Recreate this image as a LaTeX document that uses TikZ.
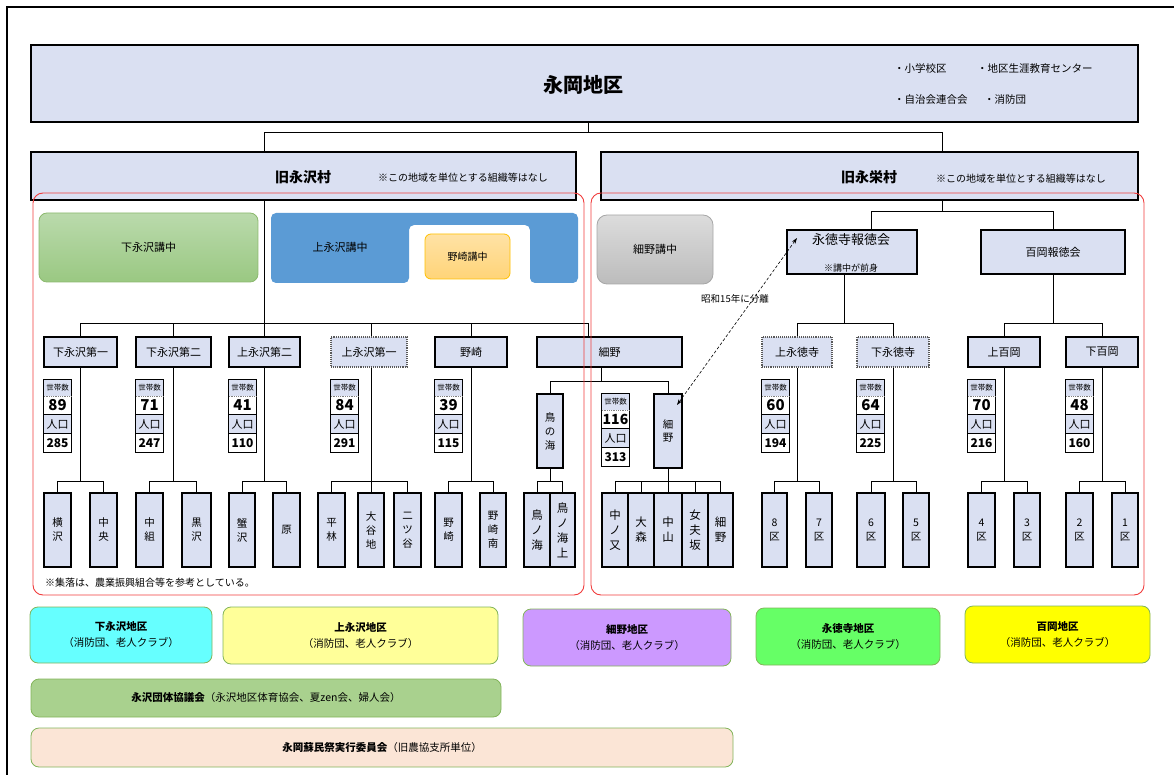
\documentclass[tikz,border=0pt]{standalone}
\usepackage{fontspec}
\setmainfont{Noto Sans CJK JP}
\usetikzlibrary{backgrounds,arrows.meta}
\definecolor{lav}{RGB}{218,224,242}
\definecolor{redb}{RGB}{240,60,60}
\definecolor{grnA}{RGB}{186,218,172}
\definecolor{grnB}{RGB}{154,200,130}
\definecolor{grnE}{RGB}{140,185,110}
\definecolor{blu}{RGB}{91,155,213}
\definecolor{orgA}{RGB}{255,226,165}
\definecolor{orgB}{RGB}{255,212,120}
\definecolor{orgE}{RGB}{255,192,0}
\definecolor{gryA}{RGB}{220,220,220}
\definecolor{gryB}{RGB}{188,188,188}
\definecolor{gryE}{RGB}{166,166,166}
\definecolor{cyb}{RGB}{102,255,255}
\definecolor{ylwA}{RGB}{255,255,153}
\definecolor{purp}{RGB}{204,153,255}
\definecolor{grnL}{RGB}{102,255,102}
\definecolor{ylwB}{RGB}{255,255,0}
\definecolor{grnD}{RGB}{169,209,142}
\definecolor{peach}{RGB}{251,229,214}
\definecolor{gbord}{RGB}{130,180,90}
\newcommand\fsz[1]{\fontsize{#1}{#1}\selectfont}
\newcommand\nA[1]{{\bfseries\fsz{15}#1}}
\newcommand\nB[1]{{\bfseries\fsz{12}#1}}
\newcommand\bx[7][]{%
 \pgfmathsetmacro\bxcx{(#3+#5)/2}%
 \pgfmathsetmacro\bxcy{(#4+#6)/2}%
 \pgfmathsetmacro\bxw{#5-#3}%
 \pgfmathsetmacro\bxh{#6-#4}%
 \node[#1, minimum width=\bxw pt, minimum height=\bxh pt] (#2) at (\bxcx,\bxcy) {#7};}
\newcommand\stbox[5]{%
 \node[sthd] (#1a) at (#2+13.5,#3+8) {世帯数};
 \node[stnum] (#1b) at (#2+13.5,#3+25.25) {#4};
 \node[sthd2] (#1c) at (#2+13.5,#3+44) {人口};
 \node[stnum] (#1d) at (#2+13.5,#3+62.75) {#5};
 \draw[line width=1pt] (#1a.north west) rectangle (#1d.south east);
 \draw[densely dotted, line width=0.8pt, gray] (#1a.south west) -- (#1a.south east);
 \draw[line width=0.8pt] (#1b.south west) -- (#1b.south east) (#1c.south west) -- (#1c.south east);}
\tikzset{
 box/.style={draw=black, fill=lav, line width=1.1pt, inner sep=0pt, font=\fsz{11}, align=center},
 dbox/.style={box, draw=gray!70!black, densely dotted},
 leaf/.style={box, font=\fontsize{10.5}{14}\selectfont},
 conn/.style={line width=0.9pt, black},
 sthd/.style={fill=lav, inner sep=0pt, minimum width=27pt, minimum height=16pt, font=\fsz{7.5}},
 sthd2/.style={fill=lav, inner sep=0pt, minimum width=27pt, minimum height=19pt, font=\fsz{11}},
 stnum/.style={fill=white, inner sep=0pt, minimum width=27pt, minimum height=18.5pt},
 kbox/.style={rounded corners=8pt, inner sep=0pt, font=\fsz{11}, line width=0.8pt},
 bot/.style={rounded corners=8pt, draw=gbord, line width=0.8pt, inner sep=0pt, align=center, font=\fontsize{10.5}{16}\selectfont},
 note/.style={inner sep=0pt, font=\fsz{10}},
}
\begin{document}
\begin{tikzpicture}[x=1pt,y=-1pt]
\useasboundingbox (0,0) rectangle (1174,775);
\draw[line width=1.5pt] (7,776) -- (7,7) -- (1175,7);
% top
\bx[box,line width=1.3pt]{top}{31}{45}{1138}{122}{}
\node[inner sep=0pt, font=\bfseries\fsz{20}] (toptitle) at (583,85) {永岡地区};
\node[note, anchor=west, font=\fsz{10.5}] (t1) at (894,69) {・小学校区};
\node[note, anchor=west, font=\fsz{10.5}] (t2) at (977,69) {・地区生涯教育センター};
\node[note, anchor=west, font=\fsz{10.5}] (t3) at (894,100) {・自治会連合会};
\node[note, anchor=west, font=\fsz{10.5}] (t4) at (984,100) {・消防団};
% villages
\bx[box,line width=1.3pt]{v1}{31}{152}{576}{200}{}
\node[inner sep=0pt, font=\bfseries\fsz{14}] (v1t) at (303,177) {旧永沢村};
\node[note, anchor=west] (v1n) at (378,178) {※この地域を単位とする組織等はなし};
\bx[box,line width=1.3pt]{v2}{601}{152}{1138}{200}{}
\node[inner sep=0pt, font=\bfseries\fsz{14}] (v2t) at (869,177) {旧永栄村};
\node[note, anchor=west] (v2n) at (936,179) {※この地域を単位とする組織等はなし};
% kochu
\bx[kbox, draw=grnE, top color=grnA, bottom color=grnB]{kg}{39}{213}{258}{282}{下永沢講中}
\fill[blu, rounded corners=5pt] (271,213) -- (578,213) -- (578,283) -- (530,283) -- (530,225) -- (409,225) -- (409,283) -- (271,283) -- cycle;
\node[inner sep=0pt, font=\fsz{11}] (kb) at (340,247) {上永沢講中};
\bx[kbox, rounded corners=6pt, draw=orgE, top color=orgA, bottom color=orgB, font=\fsz{10}]{ko}{425}{234}{510}{279}{野崎講中}
\bx[kbox, rounded corners=10pt, draw=gryE, top color=gryA, bottom color=gryB]{kgy}{597}{215}{713}{284}{細野講中}
% hotokukai
\bx[box]{hk1}{787}{230}{917}{274}{}
\node[inner sep=0pt, font=\fsz{13}] (hk1t) at (851,240) {永徳寺報徳会};
\node[inner sep=0pt, font=\fsz{9}] (hk1s) at (851,268) {※講中が前身};
\bx[box]{hk2}{981}{230}{1125}{274}{百岡報徳会}
% rows
\bx[box]{r1}{44}{337}{117}{367}{下永沢第一}
\bx[box]{r2}{136}{337}{211}{367}{下永沢第二}
\bx[box]{r3}{229}{337}{300}{367}{上永沢第二}
\bx[dbox]{r4}{331}{337}{407}{367}{上永沢第一}
\bx[box]{r5}{435}{337}{507}{367}{野崎}
\bx[box]{r6}{537}{337}{682}{367}{細野}
\bx[dbox]{r7}{762}{337}{832}{367}{上永徳寺}
\bx[dbox]{r8}{857}{337}{929}{367}{下永徳寺}
\bx[box]{r9}{968}{337}{1040}{367}{上百岡}
\bx[box]{r10}{1066}{337}{1138}{367}{下百岡}
% stats
\stbox{s1}{44}{380}{\nA{89}}{\nB{285}}
\stbox{s2}{136}{380}{\nA{71}}{\nB{247}}
\stbox{s3}{229}{380}{\nA{41}}{\nB{110}}
\stbox{s4}{331}{380}{\nA{84}}{\nB{291}}
\stbox{s5}{435}{380}{\nA{39}}{\nB{115}}
\stbox{s6}{602}{394}{{\bfseries\fsz{14}116}}{\nB{313}}
\stbox{s7}{762}{380}{\nA{60}}{\nB{194}}
\stbox{s8}{857}{380}{\nA{64}}{\nB{225}}
\stbox{s9}{968}{380}{\nA{70}}{\nB{216}}
\stbox{s10}{1066}{380}{\nA{48}}{\nB{160}}
% middle
\bx[leaf]{tn}{537}{394}{563}{468}{鳥\\の\\海}
\bx[leaf, font=\fontsize{10.5}{12.5}\selectfont]{hn}{654}{394}{682}{468}{細\\野}
% leaves
\bx[leaf]{l1}{44}{493}{71}{567}{横\\沢}
\bx[leaf]{l2}{90}{493}{117}{567}{中\\央}
\bx[leaf]{l3}{136}{493}{163}{567}{中\\組}
\bx[leaf]{l4}{182}{493}{211}{567}{黒\\沢}
\bx[leaf]{l5}{229}{493}{255}{567}{蟹\\沢}
\bx[leaf]{l6}{273}{493}{300}{567}{原}
\bx[leaf]{l7}{318}{493}{345}{567}{平\\林}
\bx[leaf]{l8}{358}{493}{384}{567}{大\\谷\\地}
\bx[leaf]{l9}{394}{493}{421}{567}{二\\ツ\\谷}
\bx[leaf]{l10}{435}{493}{462}{567}{野\\崎}
\bx[leaf]{l11}{480}{493}{506}{567}{野\\崎\\南}
\bx[leaf, font=\fontsize{11.5}{15}\selectfont]{l12}{524}{493}{550}{567}{鳥\\ノ\\海}
\bx[leaf, font=\fontsize{11.5}{15}\selectfont]{l13}{550}{493}{575}{567}{鳥\\ノ\\海\\上}
\bx[leaf, font=\fontsize{11.5}{15}\selectfont]{l14}{602}{493}{628}{567}{中\\ノ\\又}
\bx[leaf, font=\fontsize{11.5}{15}\selectfont]{l15}{628}{493}{654}{567}{大\\森}
\bx[leaf, font=\fontsize{11.5}{15}\selectfont]{l16}{654}{493}{682}{567}{中\\山}
\bx[leaf, font=\fontsize{11.5}{15}\selectfont]{l17}{682}{493}{708}{567}{女\\夫\\坂}
\bx[leaf, font=\fontsize{11.5}{15}\selectfont]{l18}{708}{493}{733}{567}{細\\野}
\bx[leaf]{l19}{762}{493}{787}{567}{8\\区}
\bx[leaf]{l20}{806}{493}{832}{567}{7\\区}
\bx[leaf]{l21}{857}{493}{885}{567}{6\\区}
\bx[leaf]{l22}{903}{493}{929}{567}{5\\区}
\bx[leaf]{l23}{968}{493}{995}{567}{4\\区}
\bx[leaf]{l24}{1014}{493}{1040}{567}{3\\区}
\bx[leaf]{l25}{1066}{493}{1093}{567}{2\\区}
\bx[leaf]{l26}{1112}{493}{1138}{567}{1\\区}
% notes
\node[note, anchor=west] (n1) at (45,583) {※集落は、農業振興組合等を参考としている。};
\node[inner sep=0pt, font=\fsz{9.5}] (lbl) at (735,299) {昭和15年に分離};
% coordinates
\coordinate (y0) at (0,132);
\coordinate (y1) at (0,211);
\coordinate (yA) at (0,323);
\coordinate (yB) at (0,481);
\coordinate (yC) at (0,381);
\coordinate (c588) at (588,0);
\coordinate (c942) at (942,0);
\coordinate (c871) at (871,0);
\coordinate (c844) at (844,0);
\coordinate (c601) at (601,0);
\coordinate (ar1) at (677,405);
\coordinate (ar2) at (797,238);
\begin{pgfonlayer}{background}
\draw[conn] (top.south -| c588) -- (c588 |- y0);
\draw[conn] (r3.north) -- (r3.north |- y0) -- (c942 |- y0) -- (v2.north -| c942);
\draw[conn] (v2.south -| c942) -- (c942 |- y1);
\draw[conn] (hk1.north -| c871) |- (hk2.north |- y1) -- (hk2.north);
\draw[conn] (r1.north) |- (c588 |- yA) -- (r6.north -| c588);
\draw[conn] (r2.north) -- (r2.north |- yA);
\draw[conn] (r4.north -| l8.north) -- (l8.north |- yA);
\draw[conn] (r5.north) -- (r5.north |- yA);
\draw[conn] (hk1.south -| c844) -- (c844 |- yA);
\draw[conn] (r7.north) |- (r8.north |- yA) -- (r8.north);
\draw[conn] (hk2.south) -- (hk2.south |- yA);
\draw[conn] (r9.north) |- (r10.north |- yA) -- (r10.north);
\draw[conn] (r1.south) -- (r1.south |- yB);
\draw[conn] (l1.north) |- (l2.north |- yB) -- (l2.north);
\draw[conn] (r2.south) -- (r2.south |- yB);
\draw[conn] (l3.north) |- (l4.north |- yB) -- (l4.north);
\draw[conn] (r3.south) -- (r3.south |- yB);
\draw[conn] (l5.north) |- (l6.north |- yB) -- (l6.north);
\draw[conn] (r4.south -| l8.north) -- (l8.north);
\draw[conn] (l7.north) |- (l9.north |- yB) -- (l9.north);
\draw[conn] (r5.south) -- (r5.south |- yB);
\draw[conn] (l10.north) |- (l11.north |- yB) -- (l11.north);
\draw[conn] (r6.south -| c601) -- (c601 |- yC);
\draw[conn] (tn.north) |- (hn.north |- yC) -- (hn.north);
\draw[conn] (tn.south) -- (tn.south |- yB);
\draw[conn] (l12.north) |- (l13.north |- yB) -- (l13.north);
\draw[conn] (hn.south) -- (hn.south |- yB);
\draw[conn] (l14.north) |- (l18.north |- yB) -- (l18.north);
\foreach \n in {l15,l16,l17} \draw[conn] (\n.north) -- (\n.north |- yB);
\draw[conn] (r7.south) -- (r7.south |- yB);
\draw[conn] (l19.north) |- (l20.north |- yB) -- (l20.north);
\draw[conn] (r8.south) -- (r8.south |- yB);
\draw[conn] (l21.north) |- (l22.north |- yB) -- (l22.north);
\draw[conn] (r9.south) -- (r9.south |- yB);
\draw[conn] (l23.north) |- (l24.north |- yB) -- (l24.north);
\draw[conn] (r10.south) -- (r10.south |- yB);
\draw[conn] (l25.north) |- (l26.north |- yB) -- (l26.north);
\end{pgfonlayer}
\draw[densely dashed, line width=0.6pt, {Stealth[length=6pt,width=4pt]}-{Stealth[length=6pt,width=4pt]}] (ar1) -- (ar2);
% red frames
\draw[redb, rounded corners=10pt, line width=0.9pt] (33,193) rectangle (584,595);
\draw[redb, rounded corners=10pt, line width=0.9pt] (591,193) rectangle (1144,595);
% bottom
\bx[bot, fill=cyb]{b1}{30}{607}{212}{663}{\textbf{下永沢地区}\\（消防団、老人クラブ）}
\bx[bot, fill=ylwA]{b2}{223}{607}{498}{664}{\textbf{上永沢地区}\\（消防団、老人クラブ）}
\bx[bot, fill=purp]{b3}{523}{609}{731}{666}{\textbf{細野地区}\\（消防団、老人クラブ）}
\bx[bot, fill=grnL]{b4}{756}{608}{940}{665}{\textbf{永徳寺地区}\\（消防団、老人クラブ）}
\bx[bot, fill=ylwB]{b5}{965}{606}{1150}{663}{\textbf{百岡地区}\\（消防団、老人クラブ）}
\bx[bot, fill=grnD]{b6}{31}{679}{501}{717}{\textbf{永沢団体協議会}（永沢地区体育協会、夏zen会、婦人会）}
\bx[bot, fill=peach]{b7}{31}{728}{733}{767}{\textbf{永岡蘇民祭実行委員会}（旧農協支所単位）}
\end{tikzpicture}
\end{document}
